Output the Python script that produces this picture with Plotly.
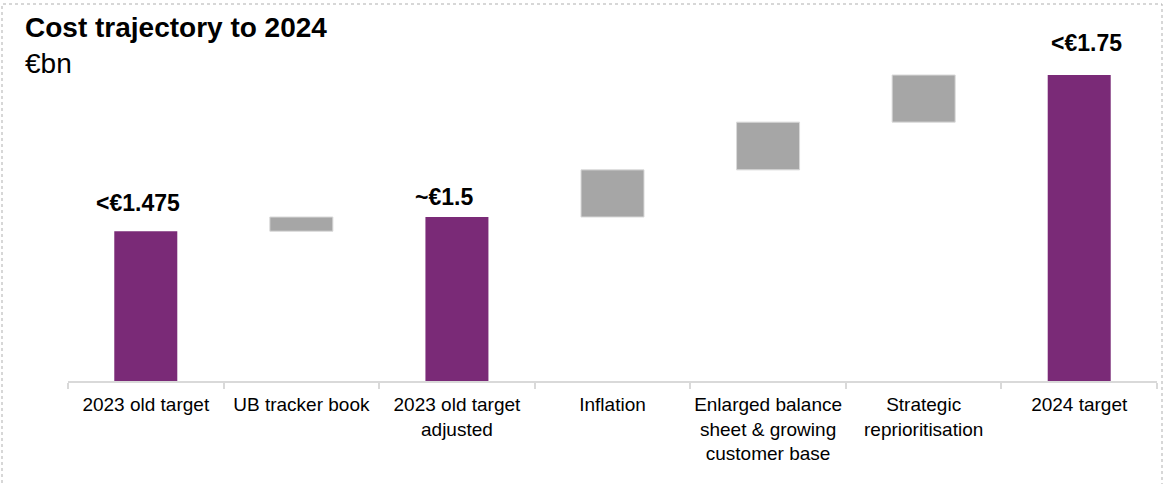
import plotly.graph_objects as go

# Waterfall data (EUR bn)
categories = [
    "2023 old target",
    "UB tracker book",
    "2023 old target<br>adjusted",
    "Inflation",
    "Enlarged balance<br>sheet & growing<br>customer base",
    "Strategic<br>reprioritisation",
    "2024 target",
]
measures = ["absolute", "relative", "total", "relative", "relative", "relative", "total"]
values = [1.475, 0.025, 0, 0.083, 0.084, 0.083, 0]

# Labels shown above the purple bars
label_idx = [0, 2, 6]
label_text = ["<€1.475", "~€1.5", "<€1.75"]
label_value = [1.475, 1.5, 1.75]

# ---- layout geometry (pixels) ----
W, H = 1163, 484
L, R, T, B = 68, 6, 10, 103
PW, PH = W - L - R, H - T - B
PX_PER_UNIT = 568
Y_MIN = 1.5 - (H - B - 217) / PX_PER_UNIT
Y_MAX = Y_MIN + PH / PX_PER_UNIT

PURPLE = "#7A2A77"
GREY = "#A6A6A6"
LIGHT = "#D9D9D9"
FONT = "Liberation Sans, Arial, sans-serif"


def px_x(px):
    return (px - L) / PW


def px_y(py):
    return (H - B - py) / PH


fig = go.Figure(
    go.Waterfall(
        x=categories,
        y=values,
        measure=measures,
        increasing=dict(marker=dict(color=GREY, line=dict(color=LIGHT, width=1))),
        decreasing=dict(marker=dict(color=GREY, line=dict(color=LIGHT, width=1))),
        totals=dict(marker=dict(color=PURPLE, line=dict(color=PURPLE, width=0))),
        connector=dict(visible=False),
        hoverinfo="skip",
    )
)

# value labels above the totals
label_shift = [(-8, 13), (-13, 5), (7, 17)]
annotations = []
for i, txt, val, (dx, dy) in zip(label_idx, label_text, label_value, label_shift):
    annotations.append(
        dict(
            x=categories[i], y=val, xref="x", yref="y",
            text=f"<b>{txt}</b>", showarrow=False,
            xanchor="center", yanchor="bottom", xshift=dx, yshift=dy,
            font=dict(family=FONT, size=23, color="#000000"),
        )
    )

# title and unit
annotations.append(
    dict(x=px_x(23), y=px_y(28), xref="paper", yref="paper", text="<b>Cost trajectory to 2024</b>",
         showarrow=False, xanchor="left", yanchor="middle",
         font=dict(family=FONT, size=28, color="#000000"))
)
annotations.append(
    dict(x=px_x(23), y=px_y(63), xref="paper", yref="paper", text="€bn",
         showarrow=False, xanchor="left", yanchor="middle",
         font=dict(family=FONT, size=28, color="#000000"))
)

# dotted frame around the slide
frame = dict(
    type="rect", xref="paper", yref="paper",
    x0=px_x(2), x1=px_x(1162), y0=px_y(490), y1=px_y(4),
    line=dict(color="#AFAFAF", width=1, dash="dot"), fillcolor="rgba(0,0,0,0)",
    layer="below",
)

fig.update_layout(
    width=W, height=H,
    margin=dict(l=L, r=R, t=T, b=B, autoexpand=False),
    paper_bgcolor="white", plot_bgcolor="white",
    showlegend=False,
    waterfallgap=0.595,
    annotations=annotations,
    shapes=[frame],
    xaxis=dict(
        type="category",
        tickson="boundaries",
        ticks="outside", ticklen=6, tickwidth=2, tickcolor=LIGHT,
        ticklabelstandoff=5,
        tickangle=0,
        automargin=False,
        showline=True, linecolor=LIGHT, linewidth=2,
        showgrid=False, zeroline=False,
        tickfont=dict(family=FONT, size=19, color="#000000"),
        fixedrange=True,
    ),
    yaxis=dict(visible=False, range=[Y_MIN, Y_MAX], showgrid=False, zeroline=False, fixedrange=True),
)

fig.write_html("out.html")
